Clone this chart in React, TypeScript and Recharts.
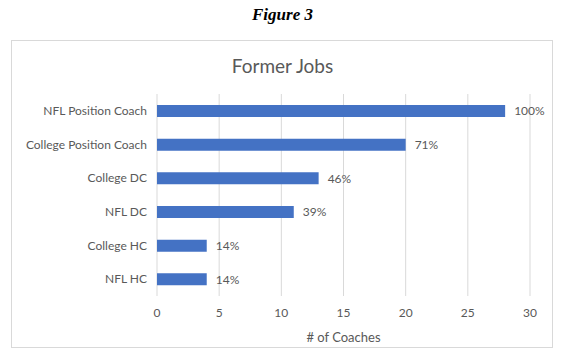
import React from 'react';
import { BarChart, Bar, XAxis, YAxis, CartesianGrid, LabelList } from 'recharts';

const categories = ['NFL Position Coach', 'College Position Coach', 'College DC', 'NFL DC', 'College HC', 'NFL HC'];
const coaches = [28, 20, 13, 11, 4, 4];
const percents = ['100%', '71%', '46%', '39%', '14%', '14%'];
const xTicks = [0, 5, 10, 15, 20, 25, 30];

const data = categories.map((name, i) => ({ name, value: coaches[i], pct: percents[i] }));

const FONT = 'Lato, "Open Sans", sans-serif';
const GRAY = '#595959';

// plain tick so long names stay on one line
const CategoryTick = (props: any) => {
  const { x, y, payload } = props;
  return (
    <text x={x} y={y} dy={4} textAnchor="end" fill={GRAY} fontSize={12} fontFamily={FONT}>
      {payload.value}
    </text>
  );
};

export default function App() {
  return (
    <div style={{ position: 'absolute', left: 0, top: 0, width: 565, height: 354, background: '#fff' }}>
      <div
        style={{
          position: 'absolute',
          top: 5,
          width: 565,
          textAlign: 'center',
          fontFamily: '"Liberation Serif", "Times New Roman", serif',
          fontStyle: 'italic',
          fontWeight: 'bold',
          fontSize: 17,
        }}
      >
        Figure 3
      </div>
      {/* chart frame */}
      <div
        style={{
          position: 'absolute',
          left: 11,
          top: 40,
          width: 540,
          height: 306,
          border: '1px solid #d9d9d9',
        }}
      />
      <div
        style={{
          position: 'absolute',
          top: 54,
          width: 565,
          textAlign: 'center',
          fontFamily: FONT,
          fontSize: 19,
          color: GRAY,
        }}
      >
        Former Jobs
      </div>
      <div style={{ position: 'absolute', left: 0, top: 0 }}>
        <BarChart
          width={565}
          height={354}
          data={data}
          layout="vertical"
          margin={{ top: 94, right: 35, left: 7, bottom: 0 }}
        >
          <CartesianGrid horizontal={false} stroke="#d9d9d9" />
          <XAxis
            type="number"
            domain={[0, 30]}
            ticks={xTicks}
            axisLine={false}
            tickLine={false}
            height={58}
            tick={{ fill: GRAY, fontSize: 12, fontFamily: FONT }}
            tickMargin={6}
            label={{ value: '# of Coaches', position: 'insideBottom', offset: 12, fill: GRAY, fontSize: 13, fontFamily: FONT }}
          />
          <YAxis
            type="category"
            dataKey="name"
            width={150}
            axisLine={false}
            tickLine={false}
            tickMargin={4}
            tick={<CategoryTick />}
          />
          <Bar dataKey="value" fill="#4472c4" barSize={12} isAnimationActive={false}>
            <LabelList dataKey="pct" position="right" offset={9} fill={GRAY} fontSize={12} fontFamily={FONT} />
          </Bar>
        </BarChart>
      </div>
    </div>
  );
}
